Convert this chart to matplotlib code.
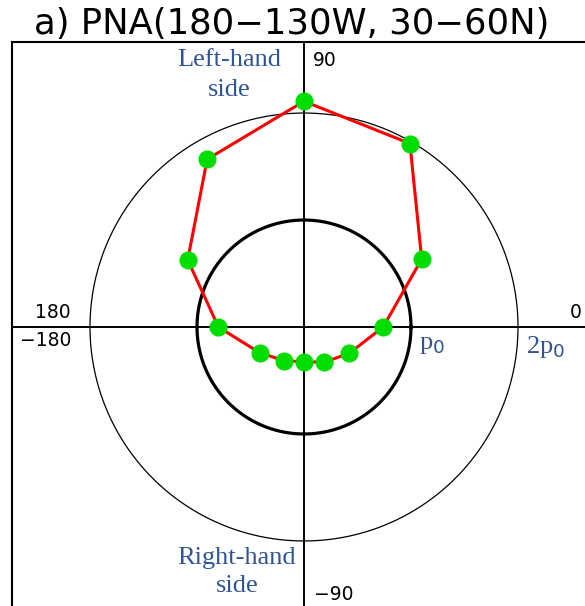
import numpy as np
import matplotlib
matplotlib.use("Agg")
import matplotlib.pyplot as plt

# Phase angle (degrees) and amplitude (in units of p0) of the PNA index
angles_deg = [0, 30, 60, 90, 120, 150, 180, 210, 240, 270, 300, 330]
amplitude = [0.74, 1.27, 1.98, 2.11, 1.81, 1.255, 0.80, 0.48, 0.365, 0.325, 0.38, 0.49]

title = "a) PNA(180\u2212130W, 30\u221260N)"
ref_radii = [1.0, 2.0]          # p0 and 2p0 reference circles
half_w, half_h = 2.729, 2.664    # half extents of the framed box, in p0 units

fig = plt.figure(figsize=(5.85, 6.06), dpi=100)
W, H = 585, 606
# framed box: 12..596 px horizontally, 42..612 px from top
ax = fig.add_axes([12 / W, (H - 612) / H, 584 / W, 570 / H])
ax.set_xlim(-half_w, half_w)
ax.set_ylim(-half_h, half_h)
ax.set_xticks([])
ax.set_yticks([])
for s in ax.spines.values():
    s.set_linewidth(1.5)
    s.set_color("black")

# cross-hair axes
ax.axhline(0, color="black", lw=1.4, zorder=2)
ax.axvline(0, color="black", lw=1.4, zorder=2)

# reference circles
t = np.linspace(0, 2 * np.pi, 400)
ax.plot(ref_radii[0] * np.cos(t), ref_radii[0] * np.sin(t), color="black", lw=2.3, zorder=3)
ax.plot(ref_radii[1] * np.cos(t), ref_radii[1] * np.sin(t), color="black", lw=0.9, zorder=3)

# closed amplitude/phase polygon
th = np.deg2rad(np.array(angles_deg + [angles_deg[0]], dtype=float))
rr = np.array(amplitude + [amplitude[0]])
x = rr * np.cos(th)
y = rr * np.sin(th)
ax.plot(x, y, color="#ff0000", lw=2.2, zorder=4)
ax.plot(x[:-1], y[:-1], "o", color="#00dd00", mec="#00dd00", ms=12, zorder=5)

# angle labels
gfont = dict(family="DejaVu Sans", fontsize=13.5, color="black")
def px(xp, yp):
    return ((xp - 304) / 107.0, (327 - yp) / 107.0)

ax.text(*px(313, 60), "90", ha="left", va="center", **gfont)
ax.text(*px(314, 595), "\u221290", ha="left", va="center", **gfont)
ax.text(*px(71, 312), "180", ha="right", va="center", **gfont)
ax.text(*px(71, 341), "\u2212180", ha="right", va="center", **gfont)
ax.text(*px(582, 312), "0", ha="right", va="center", **gfont)

# annotations
blue = "#2f5597"
sfont = dict(family="Liberation Serif", fontsize=19, color=blue)
ax.text(*px(229, 75), "Left-hand\nside", ha="center", va="center", linespacing=1.45, **sfont)
ax.text(*px(237, 572), "Right-hand\nside", ha="center", va="center", linespacing=1.35, **sfont)
ax.text(*px(419, 345), r"p$_0$", ha="left", va="center", **sfont)
ax.text(*px(526, 347), r"2p$_0$", ha="left", va="center", **sfont)

fig.text(34 / W, 1 - 24 / H, title, ha="left", va="center",
         family="DejaVu Sans", fontsize=25.5, color="black")

fig.savefig("out.png", dpi=100)
